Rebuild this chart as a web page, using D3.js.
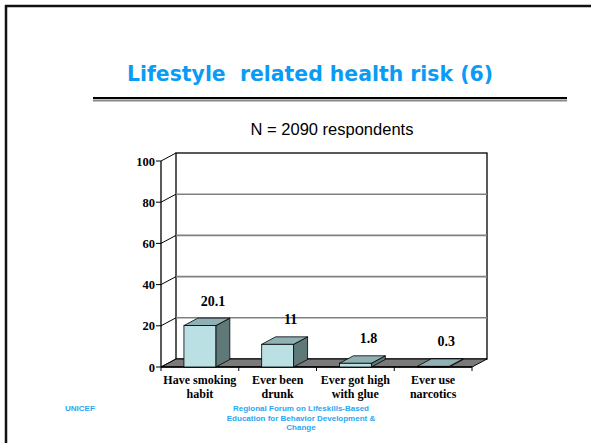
<!DOCTYPE html>
<html>
<head>
<meta charset="utf-8" />
<title>Lifestyle related health risk</title>
<style>
body { margin: 0; background: #fff; }
.serif { font-family: "Liberation Serif", "Times New Roman", serif; font-weight: bold; }
.sans { font-family: "Liberation Sans", Arial, sans-serif; }
</style>
</head>
<body>
<div id="chart"></div>
<script src="https://d3js.org/d3.v7.min.js"></script>
<script>
var categories = [['Have smoking', 'habit'], ['Ever been', 'drunk'], ['Ever got high', 'with glue'], ['Ever use', 'narcotics']];
var values = [20.1, 11, 1.8, 0.3];
var valueLabels = ['20.1', '11', '1.8', '0.3'];
var yTicks = [0, 20, 40, 60, 80, 100];

var width = 591, height = 443;
var svg = d3.select('#chart').append('svg')
  .attr('width', width).attr('height', height);

// slide frame
svg.append('line').attr('x1', 5).attr('x2', width).attr('y1', 6).attr('y2', 6)
  .attr('stroke', '#111').attr('stroke-width', 2.5);
svg.append('line').attr('x1', 6).attr('x2', 6).attr('y1', 5).attr('y2', height)
  .attr('stroke', '#111').attr('stroke-width', 2.5);

// title
svg.append('text').attr('x', 310).attr('y', 81).attr('text-anchor', 'middle')
  .style('font-family', '"DejaVu Sans", sans-serif').style('font-weight', 'bold')
  .style('font-size', '22px').style('white-space', 'pre').attr('fill', '#0A9BF5')
  .attr('textLength', 366).attr('lengthAdjust', 'spacingAndGlyphs')
  .text('Lifestyle  related health risk (6)');
svg.append('line').attr('x1', 93).attr('x2', 567).attr('y1', 98).attr('y2', 98)
  .attr('stroke', '#000').attr('stroke-width', 2);
svg.append('line').attr('x1', 93).attr('x2', 567).attr('y1', 100.5).attr('y2', 100.5)
  .attr('stroke', '#888').attr('stroke-width', 2);

svg.append('text').attr('class', 'sans').attr('x', 332).attr('y', 134.5).attr('text-anchor', 'middle')
  .style('font-size', '16.5px')
  .text('N = 2090 respondents');

// chart
var x0 = 161, x1 = 472, yBase = 367, yTop = 161;
var dx = 15, dy = -8;     // wall depth
var bdx = 14, bdy = -7.5; // bar depth

var x = d3.scaleBand().domain(d3.range(values.length)).range([x0, x1])
  .paddingInner(0.59).paddingOuter(0.295);
var y = d3.scaleLinear().domain([0, 100]).range([yBase, yTop]);

var g = svg.append('g');

// back wall
g.append('rect').attr('x', x0 + dx).attr('y', yTop + dy)
  .attr('width', x1 - x0).attr('height', yBase - yTop)
  .attr('fill', '#fff').attr('stroke', '#000').attr('stroke-width', 1.3);

// gridlines on back wall
g.selectAll('.grid').data(yTicks.filter(function(d) { return d > 0 && d < 100; }))
  .enter().append('line')
  .attr('x1', x0 + dx).attr('x2', x1 + dx)
  .attr('y1', function(d) { return y(d) + dy; })
  .attr('y2', function(d) { return y(d) + dy; })
  .attr('stroke', '#808080').attr('stroke-width', 1.6);

// side wall lines
g.selectAll('.side').data(yTicks).enter().append('line')
  .attr('x1', x0).attr('x2', x0 + dx)
  .attr('y1', function(d) { return y(d); })
  .attr('y2', function(d) { return y(d) + dy; })
  .attr('stroke', '#000').attr('stroke-width', 1);

// floor
g.append('polygon')
  .attr('points', [[x0, yBase], [x1, yBase], [x1 + dx, yBase + dy], [x0 + dx, yBase + dy]].join(' '))
  .attr('fill', '#7a7a7a').attr('stroke', '#000').attr('stroke-width', 1);

// y axis
g.append('line').attr('x1', x0).attr('x2', x0).attr('y1', yBase).attr('y2', yTop)
  .attr('stroke', '#000').attr('stroke-width', 1.3);
g.selectAll('.ytick').data(yTicks).enter().append('line')
  .attr('x1', x0 - 5).attr('x2', x0)
  .attr('y1', function(d) { return y(d); }).attr('y2', function(d) { return y(d); })
  .attr('stroke', '#000');
g.selectAll('.ylab').data(yTicks).enter().append('text').attr('class', 'serif')
  .attr('x', x0 - 6).attr('y', function(d) { return y(d) + 4.5; })
  .attr('text-anchor', 'end').style('font-size', '12.5px')
  .text(function(d) { return d; });

// x axis
g.append('line').attr('x1', x0).attr('x2', x1).attr('y1', yBase).attr('y2', yBase)
  .attr('stroke', '#000').attr('stroke-width', 1.3);
var step = x.step();
g.selectAll('.xtick').data(d3.range(values.length + 1)).enter().append('line')
  .attr('x1', function(i) { return x0 + i * step; })
  .attr('x2', function(i) { return x0 + i * step; })
  .attr('y1', yBase).attr('y2', yBase + 4)
  .attr('stroke', '#000');

var xl = g.selectAll('.xlab').data(categories).enter().append('text').attr('class', 'serif')
  .attr('text-anchor', 'middle').style('font-size', '12px');
xl.each(function(lines, i) {
  var cx = x(i) + x.bandwidth() / 2;
  d3.select(this).selectAll('tspan').data(lines).enter().append('tspan')
    .attr('x', cx).attr('y', function(d, j) { return 384 + j * 13.5; })
    .text(function(d) { return d; });
});

// bars
var bars = g.selectAll('.bar').data(values).enter().append('g');
bars.append('polygon') // side
  .attr('points', function(d, i) {
    var xr = x(i) + x.bandwidth();
    return [[xr, y(d)], [xr + bdx, y(d) + bdy], [xr + bdx, yBase + bdy], [xr, yBase]].join(' ');
  })
  .attr('fill', '#5f7878').attr('stroke', '#000').attr('stroke-width', 0.8);
bars.append('polygon') // top
  .attr('points', function(d, i) {
    var xl0 = x(i), xr = x(i) + x.bandwidth();
    return [[xl0, y(d)], [xr, y(d)], [xr + bdx, y(d) + bdy], [xl0 + bdx, y(d) + bdy]].join(' ');
  })
  .attr('fill', '#8fb1b4').attr('stroke', '#000').attr('stroke-width', 0.8);
bars.append('rect') // front
  .attr('x', function(d, i) { return x(i); })
  .attr('y', function(d) { return y(d); })
  .attr('width', x.bandwidth())
  .attr('height', function(d) { return yBase - y(d); })
  .attr('fill', '#bbe0e3').attr('stroke', '#000').attr('stroke-width', 0.8);

g.selectAll('.vlab').data(values).enter().append('text').attr('class', 'serif')
  .attr('x', function(d, i) { return x(i) + x.bandwidth() / 2 + 13; })
  .attr('y', function(d) { return y(d) - 20; })
  .attr('text-anchor', 'middle').style('font-size', '14px')
  .text(function(d, i) { return valueLabels[i]; });

// footer
var foot = svg.append('g').attr('fill', '#2aa6f5');
foot.append('text').attr('class', 'sans').attr('x', 65).attr('y', 411)
  .style('font-weight', 'bold').style('font-size', '8px').text('UNICEF');
var ft = foot.append('text').attr('class', 'sans').attr('text-anchor', 'middle')
  .style('font-weight', 'bold').style('font-size', '8px');
['Regional Forum on Lifeskills-Based', 'Education for Behavior Development &', 'Change']
  .forEach(function(s, i) {
    ft.append('tspan').attr('x', 301).attr('y', 411 + i * 9.7).text(s);
  });
</script>
</body>
</html>
